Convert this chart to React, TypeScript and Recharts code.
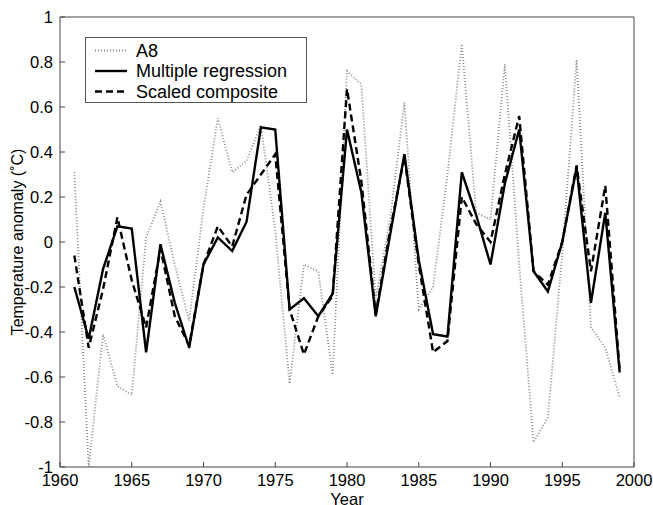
import React from 'react';
import { LineChart, Line, XAxis, YAxis, Legend } from 'recharts';

const years = [
  1961, 1962, 1963, 1964, 1965, 1966, 1967, 1968, 1969, 1970,
  1971, 1972, 1973, 1974, 1975, 1976, 1977, 1978, 1979, 1980,
  1981, 1982, 1983, 1984, 1985, 1986, 1987, 1988, 1989, 1990,
  1991, 1992, 1993, 1994, 1995, 1996, 1997, 1998, 1999,
];

const a8 = [
  0.31, -1.0, -0.41, -0.64, -0.68, 0.02, 0.18, -0.1, -0.35, 0.15,
  0.55, 0.31, 0.36, 0.52, 0.05, -0.63, -0.1, -0.13, -0.59, 0.76,
  0.7, -0.25, 0.1, 0.62, -0.3, -0.2, 0.3, 0.88, 0.13, 0.1,
  0.79, -0.1, -0.89, -0.78, -0.05, 0.81, -0.38, -0.47, -0.69,
];

const multipleRegression = [
  -0.2, -0.43, -0.12, 0.07, 0.06, -0.49, -0.01, -0.27, -0.47, -0.1,
  0.02, -0.04, 0.09, 0.51, 0.5, -0.3, -0.25, -0.33, -0.23, 0.5,
  0.22, -0.33, 0.03, 0.39, -0.08, -0.41, -0.42, 0.31, 0.12, -0.1,
  0.26, 0.5, -0.13, -0.22, 0.0, 0.33, -0.27, 0.13, -0.58,
];

const scaledComposite = [
  -0.06, -0.47, -0.21, 0.11, -0.17, -0.38, -0.03, -0.33, -0.46, -0.1,
  0.07, -0.02, 0.21, 0.3, 0.39, -0.3, -0.5, -0.33, -0.24, 0.68,
  0.27, -0.32, 0.05, 0.38, -0.1, -0.49, -0.44, 0.2, 0.08, 0.0,
  0.3, 0.56, -0.13, -0.19, 0.0, 0.34, -0.13, 0.25, -0.57,
];

const xTicks = [1960, 1965, 1970, 1975, 1980, 1985, 1990, 1995, 2000];
const yTicks = [-1, -0.8, -0.6, -0.4, -0.2, 0, 0.2, 0.4, 0.6, 0.8, 1];

const data = years.map((year, i) => ({
  year,
  a8: a8[i],
  multiple: multipleRegression[i],
  scaled: scaledComposite[i],
}));

const FONT = '"Liberation Sans", Arial, sans-serif';
const AXIS_COLOR = '#444';
const TEXT_COLOR = '#000';

const legendItems = [
  { label: 'A8', stroke: '#8a8a8a', width: 1.8, dash: '1 2' },
  { label: 'Multiple regression', stroke: '#000', width: 2.4, dash: undefined },
  { label: 'Scaled composite', stroke: '#000', width: 2.4, dash: '7 4' },
];

function LegendBox() {
  return (
    <svg width={222} height={66} style={{ display: 'block' }}>
      <rect x={0.5} y={0.5} width={221} height={65} fill="#fff" stroke="#555" />
      {legendItems.map((item, i) => {
        const cy = 13.5 + i * 20.5;
        return (
          <g key={item.label}>
            <line x1={10} x2={42} y1={cy} y2={cy} stroke={item.stroke} strokeWidth={item.width} strokeDasharray={item.dash} />
            <text x={51} y={cy} dy="0.36em" fontSize={18} fontFamily={FONT} fill={TEXT_COLOR}>
              {item.label}
            </text>
          </g>
        );
      })}
    </svg>
  );
}

export default function App() {
  return (
    <div style={{ position: 'absolute', left: 0, top: 0, width: 653, height: 505, background: '#fff' }}>
      <LineChart width={653} height={505} data={data} margin={{ top: 0, right: 0, bottom: 0, left: 0 }}>
        <XAxis
          dataKey="year"
          type="number"
          domain={[1960, 2000]}
          ticks={xTicks}
          height={38}
          tickSize={-5}
          tickMargin={12}
          stroke={AXIS_COLOR}
          tick={{ fontSize: 16.5, fontFamily: FONT, fill: TEXT_COLOR }}
          label={{ value: 'Year', position: 'insideBottom', offset: 0, fontSize: 16.5, fontFamily: FONT, fill: TEXT_COLOR }}
        />
        <XAxis
          xAxisId="top"
          orientation="top"
          dataKey="year"
          type="number"
          domain={[1960, 2000]}
          ticks={xTicks}
          height={17}
          tickSize={-5}
          stroke={AXIS_COLOR}
          tick={false}
        />
        <YAxis
          type="number"
          domain={[-1, 1]}
          ticks={yTicks}
          width={60}
          tickSize={-5}
          tickMargin={12}
          stroke={AXIS_COLOR}
          tick={{ fontSize: 16.5, fontFamily: FONT, fill: TEXT_COLOR }}
          label={{
            value: 'Temperature anomaly (˚C)',
            angle: -90,
            position: 'insideLeft',
            offset: 11,
            dx: 6,
            style: { textAnchor: 'middle' },
            fontSize: 16,
            fontFamily: FONT,
            fill: TEXT_COLOR,
          }}
        />
        <YAxis
          yAxisId="right"
          orientation="right"
          type="number"
          domain={[-1, 1]}
          ticks={yTicks}
          width={19}
          tickSize={-5}
          stroke={AXIS_COLOR}
          tick={false}
        />
        <Legend
          layout="vertical"
          align="center"
          verticalAlign="middle"
          wrapperStyle={{ left: 85, top: 37, width: 222, height: 66 }}
          content={() => <LegendBox />}
        />
        <Line
          dataKey="a8"
          name="A8"
          stroke="#8a8a8a"
          strokeWidth={1.8}
          strokeDasharray="1 2"
          dot={false}
          isAnimationActive={false}
        />
        <Line
          dataKey="multiple"
          name="Multiple regression"
          stroke="#000"
          strokeWidth={2.4}
          dot={false}
          isAnimationActive={false}
        />
        <Line
          dataKey="scaled"
          name="Scaled composite"
          stroke="#000"
          strokeWidth={2.4}
          strokeDasharray="7 4"
          dot={false}
          isAnimationActive={false}
        />
      </LineChart>
    </div>
  );
}
